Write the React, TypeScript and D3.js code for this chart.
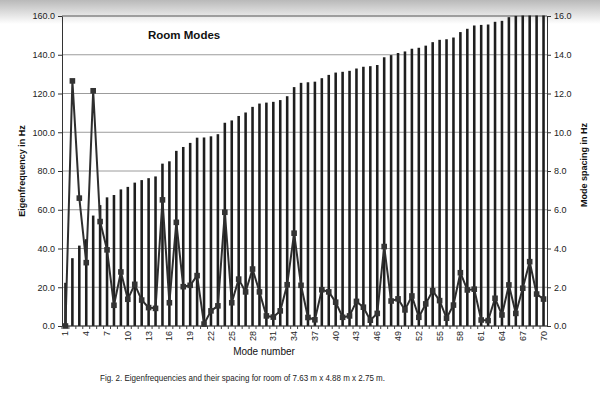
import * as d3 from 'd3';
import { useRef, useEffect } from 'react';

// mode number 1..70
const modeNumbers = d3.range(1, 71);

// eigenfrequency of each mode, Hz (left axis), top ones clipped at 160
const eigenFreq = [
	22.3, 35.0, 41.5, 44.8, 57.0, 62.4, 66.4, 67.6, 70.5, 71.8,
	74.0, 75.3, 76.3, 77.2, 83.8, 85.0, 90.4, 92.4, 94.5, 97.2,
	97.3, 97.9, 99.0, 104.9, 106.1, 108.4, 110.2, 113.1, 114.8, 115.3,
	115.7, 116.6, 118.6, 123.3, 125.5, 125.8, 126.1, 127.9, 129.6, 130.8,
	131.2, 131.7, 132.9, 133.8, 134.1, 134.7, 138.7, 139.8, 140.9, 141.7,
	143.1, 143.6, 144.7, 146.5, 147.7, 148.0, 148.9, 151.7, 153.4, 155.1,
	155.4, 155.6, 157.0, 157.5, 159.4, 160.1, 162.0, 165.3, 167.0, 168.4,
];

// spacing to previous mode, Hz (right axis)
const modeSpacing = [
	0.0, 12.65, 6.6, 3.27, 12.14, 5.39, 3.93, 1.07, 2.79, 1.38,
	2.15, 1.34, 0.95, 0.91, 6.51, 1.2, 5.35, 2.03, 2.1, 2.6,
	0.1, 0.78, 1.04, 5.87, 1.2, 2.42, 1.76, 2.94, 1.76, 0.52,
	0.46, 0.78, 2.13, 4.79, 2.1, 0.44, 0.32, 1.87, 1.76, 1.23,
	0.45, 0.52, 1.27, 0.97, 0.3, 0.65, 4.1, 1.29, 1.4, 0.83,
	1.55, 0.45, 1.14, 1.82, 1.31, 0.4, 1.08, 2.75, 1.86, 1.9,
	0.31, 0.28, 1.43, 0.57, 2.12, 0.65, 1.95, 3.32, 1.65, 1.39,
];

const leftTicks = [0, 20, 40, 60, 80, 100, 120, 140, 160];
const rightTicks = [0, 2, 4, 6, 8, 10, 12, 14, 16];
const xTickModes = [1, 4, 7, 10, 13, 16, 19, 22, 25, 28, 31, 34, 37, 40, 43, 46, 49, 52, 55, 58, 61, 64, 67, 70];

const App = () => {
	const W = 600, H = 396;
	const plot = { left: 62, right: 547, top: 16, bottom: 326 };
	const ref: any = useRef();
	const font = "'Liberation Sans', Arial, sans-serif";

	useEffect(() => {
		draw();
	}, []);

	const draw = () => {
		const svg = d3.select(ref.current);
		svg.selectAll("*").remove();

		const x = d3.scaleBand<number>()
			.domain(modeNumbers)
			.range([plot.left, plot.right])
			.paddingInner(0.63)
			.paddingOuter(0.315);
		const y = d3.scaleLinear().domain([0, 160]).range([plot.bottom, plot.top]);
		const yR = d3.scaleLinear().domain([0, 16]).range([plot.bottom, plot.top]);
		const cx = (m: number) => (x(m) as number) + x.bandwidth() / 2;

		const defs = svg.append("defs");
		const grad = defs.append("linearGradient")
			.attr("id", "scan").attr("x1", 0).attr("x2", 0).attr("y1", 0).attr("y2", 1);
		grad.append("stop").attr("offset", "0%").attr("stop-color", "#b9b9b9");
		grad.append("stop").attr("offset", "100%").attr("stop-color", "#ffffff");
		defs.append("clipPath").attr("id", "plotclip")
			.append("rect")
			.attr("x", plot.left).attr("y", plot.top - 0.5)
			.attr("width", plot.right - plot.left).attr("height", plot.bottom - plot.top + 0.5);

		svg.append("rect").attr("width", W).attr("height", H).attr("fill", "#fff");
		svg.append("rect").attr("width", W).attr("height", 24).attr("fill", "url(#scan)");

		// gridlines
		svg.append("g").selectAll("line")
			.data(leftTicks)
			.enter().append("line")
			.attr("x1", plot.left).attr("x2", plot.right)
			.attr("y1", d => y(d)).attr("y2", d => y(d))
			.attr("stroke", d => (d === 160 ? "#555" : "#9c9c9c"))
			.attr("stroke-width", 1);

		// eigenfrequency bars
		svg.append("g").attr("clip-path", "url(#plotclip)")
			.selectAll("rect")
			.data(eigenFreq)
			.enter().append("rect")
			.attr("x", (d, i) => x(modeNumbers[i]) as number)
			.attr("y", d => y(d))
			.attr("width", x.bandwidth())
			.attr("height", d => y(0) - y(d))
			.attr("fill", "#1e1e1e");

		// spacing line
		const line = d3.line<number>()
			.x((d, i) => cx(modeNumbers[i]))
			.y(d => yR(d));
		svg.append("path")
			.datum(modeSpacing)
			.attr("d", line)
			.attr("fill", "none")
			.attr("stroke", "#2e2e2e")
			.attr("stroke-width", 2)
			.attr("stroke-linejoin", "round");
		svg.append("g").selectAll("rect")
			.data(modeSpacing)
			.enter().append("rect")
			.attr("x", (d, i) => cx(modeNumbers[i]) - 2.8)
			.attr("y", d => yR(d) - 2.8)
			.attr("width", 5.6)
			.attr("height", 5.6)
			.attr("fill", "#333");

		// left axis
		const yAxis = svg.append("g")
			.attr("transform", "translate(" + plot.left + ",0)")
			.call(d3.axisLeft(y).tickValues(leftTicks).tickFormat(d3.format(".1f")).tickSize(4).tickSizeOuter(0).tickPadding(3));
		// right axis
		const yAxisR = svg.append("g")
			.attr("transform", "translate(" + plot.right + ",0)")
			.call(d3.axisRight(yR).tickValues(rightTicks).tickFormat(d3.format(".1f")).tickSize(4).tickSizeOuter(0).tickPadding(3));
		[yAxis, yAxisR].forEach(a => {
			a.select(".domain").attr("stroke", "#333");
			a.selectAll(".tick line").attr("stroke", "#333");
			a.selectAll("text").attr("font-family", font).attr("font-size", 9).attr("fill", "#222");
		});

		// bottom axis line + category ticks
		svg.append("line")
			.attr("x1", plot.left).attr("x2", plot.right)
			.attr("y1", plot.bottom).attr("y2", plot.bottom)
			.attr("stroke", "#333");
		svg.append("g").selectAll("line")
			.data(modeNumbers)
			.enter().append("line")
			.attr("x1", d => (x(d) as number) - (x.step() - x.bandwidth()) / 2)
			.attr("x2", d => (x(d) as number) - (x.step() - x.bandwidth()) / 2)
			.attr("y1", plot.bottom).attr("y2", plot.bottom + 3)
			.attr("stroke", "#444");
		svg.append("g").selectAll("text")
			.data(xTickModes)
			.enter().append("text")
			.attr("transform", d => "translate(" + cx(d) + "," + (plot.bottom + 5) + ") rotate(-90)")
			.attr("text-anchor", "end")
			.attr("dy", "0.33em")
			.attr("font-family", font)
			.attr("font-size", 9)
			.attr("fill", "#222")
			.text(d => d);

		// titles
		svg.append("text")
			.attr("x", 148).attr("y", 39)
			.attr("font-family", font).attr("font-size", 11.5).attr("font-weight", "bold")
			.attr("fill", "#111")
			.text("Room Modes");
		svg.append("text")
			.attr("transform", "translate(25,171) rotate(-90)")
			.attr("text-anchor", "middle")
			.attr("font-family", font).attr("font-size", 9).attr("font-weight", "bold")
			.attr("fill", "#111")
			.text("Eigenfrequency in Hz");
		svg.append("text")
			.attr("transform", "translate(587,165) rotate(-90)")
			.attr("text-anchor", "middle")
			.attr("font-family", font).attr("font-size", 9).attr("font-weight", "bold")
			.attr("fill", "#111")
			.text("Mode spacing in Hz");
		svg.append("text")
			.attr("x", 264).attr("y", 355)
			.attr("text-anchor", "middle")
			.attr("font-family", font).attr("font-size", 10)
			.attr("fill", "#111")
			.text("Mode number");
		svg.append("text")
			.attr("x", 100).attr("y", 381)
			.attr("textLength", 285)
			.attr("lengthAdjust", "spacingAndGlyphs")
			.attr("font-family", font).attr("font-size", 9)
			.attr("fill", "#222")
			.text("Fig. 2.  Eigenfrequencies and their spacing for room of  7.63 m x 4.88 m x 2.75 m.");
	}

	return (
		<svg ref={ref} width={W} height={H}
			style={{ position: "absolute", left: 0, top: 0, display: "block" }}>
		</svg>
	)
}

export default App;
